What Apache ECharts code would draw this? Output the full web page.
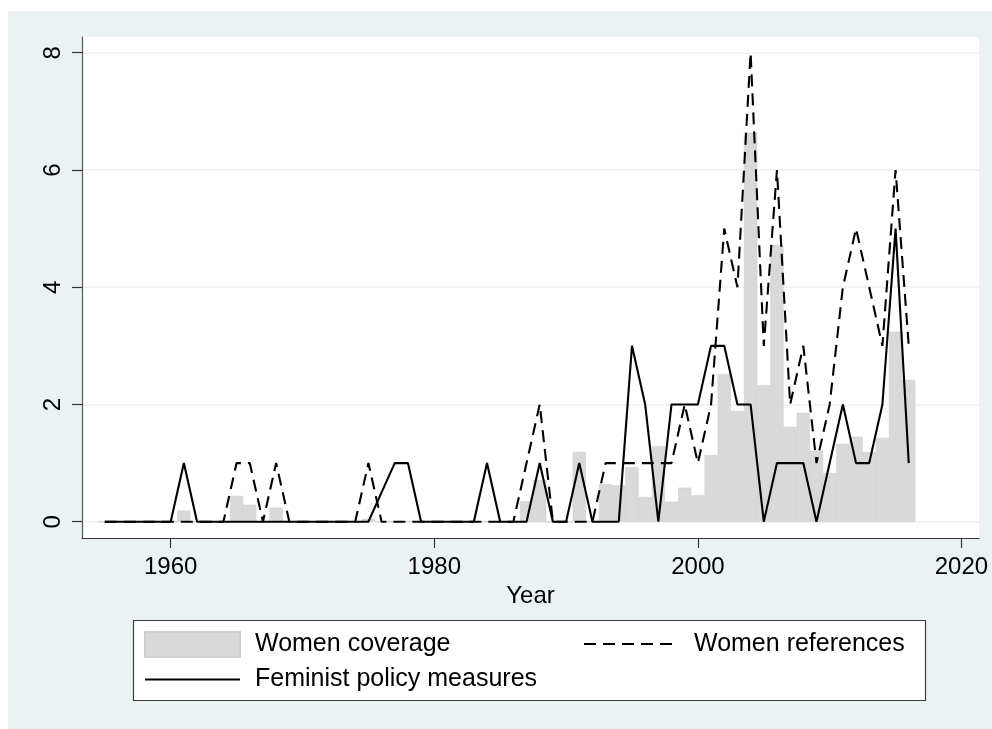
<!DOCTYPE html>
<html>
<head>
<meta charset="utf-8">
<script src="https://cdn.jsdelivr.net/npm/echarts@6/dist/echarts.min.js"></script>
<style>
html,body{margin:0;padding:0;background:#fff;}
#chart{width:992px;height:729px;}
</style>
</head>
<body>
<div id="chart"></div>
<script>
const years = [1955,1956,1957,1958,1959,1960,1961,1962,1963,1964,1965,1966,1967,1968,1969,1970,1971,1972,1973,1974,1975,1976,1977,1978,1979,1980,1981,1982,1983,1984,1985,1986,1987,1988,1989,1990,1991,1992,1993,1994,1995,1996,1997,1998,1999,2000,2001,2002,2003,2004,2005,2006,2007,2008,2009,2010,2011,2012,2013,2014,2015,2016];
const womenCoverage = [0,0,0,0,0,0,0.19,0,0,0,0.44,0.29,0,0.24,0,0,0,0,0,0,0.05,0,0,0,0,0,0,0,0,0,0,0,
  0.35,0.71,0,0,1.19,0,0.64,0.62,0.93,0.42,1.29,0.34,0.58,0.45,1.14,2.52,1.89,6.64,2.33,4.72,1.62,1.86,1.21,0.83,1.33,1.45,1.19,1.43,3.24,2.42];
const womenReferences = [0,0,0,0,0,0,0,0,0,0,1,1,0,1,0,0,0,0,0,0,1,0,0,0,0,0,0,0,0,0,0,0,
  1,2,0,0,0,0,1,1,1,1,1,1,2,1,2,5,4,8,3,6,2,3,1,2,4,5,4,3,6,3];
const feministMeasures = [0,0,0,0,0,0,1,0,0,0,0,0,0,0,0,0,0,0,0,0,0,0.5,1,1,0,0,0,0,0,1,0,0,
  0,1,0,0,1,0,0,0,3,2,0,2,2,2,3,3,2,2,0,1,1,1,0,1,2,1,1,2,5,1];
const xTicks = [1960,1980,2000,2020];
const yTicks = [0,2,4,6,8];
const seriesNames = ['Women coverage','Women references','Feminist policy measures'];
const xTitle = 'Year';

const pairs = arr => years.map((y,i)=>[y,arr[i]]);
const FONT = "'Liberation Sans', Arial, sans-serif";
const plain = v => String(v);

const chart = echarts.init(document.getElementById('chart'), null, {renderer:'canvas'});
chart.setOption({
  backgroundColor:'#eaf2f3',
  animation:false,
  textStyle:{fontFamily:FONT},
  graphic:[
    {type:'rect', shape:{x:0,y:0,width:992,height:11}, style:{fill:'#ffffff'}, silent:true},
    {type:'rect', shape:{x:0,y:0,width:8,height:729}, style:{fill:'#ffffff'}, silent:true},
    {type:'rect', shape:{x:133.5,y:620.5,width:792,height:80}, style:{fill:'#ffffff',stroke:'#3c3c3c',lineWidth:1.2}, silent:true}
  ],
  grid:{left:82, top:37, width:897, height:501, show:true, backgroundColor:'#ffffff', borderWidth:0, containLabel:false},
  xAxis:{
    type:'value', min:1953.27, max:2021.33,
    name:xTitle, nameLocation:'middle', nameGap:44,
    nameTextStyle:{fontSize:24, color:'#000', fontFamily:FONT},
    axisLine:{show:true, onZero:false, lineStyle:{color:'#333', width:1.2}},
    axisTick:{show:true, length:10, customValues:xTicks, lineStyle:{color:'#333', width:1.2}},
    axisLabel:{customValues:xTicks, formatter:plain, fontSize:24, color:'#000', margin:17, fontFamily:FONT},
    splitLine:{show:false}
  },
  yAxis:{
    type:'value', min:-0.278, max:8.268,
    axisLine:{show:true, onZero:false, lineStyle:{color:'#555', width:1.2}},
    axisTick:{show:true, length:10, customValues:yTicks, lineStyle:{color:'#333', width:1.2}},
    axisLabel:{customValues:yTicks, formatter:plain, rotate:90, fontSize:24, color:'#000', margin:17, fontFamily:FONT},
    splitLine:{show:true, lineStyle:{color:'#eaf2f3', width:1.6}}
  },
  legend:[
    {data:[seriesNames[0]], left:144, top:631, padding:0, itemWidth:95, itemHeight:25, icon:'rect',
     textStyle:{fontSize:25, color:'#000', fontFamily:FONT, padding:[0,0,0,10]}, selectedMode:false, z:5},
    {data:[seriesNames[1]], left:583, top:631.5, padding:0, itemWidth:95, itemHeight:2,
     itemStyle:{opacity:0}, lineStyle:{width:2},
     textStyle:{fontSize:25, color:'#000', fontFamily:FONT, padding:[0,0,0,10]}, selectedMode:false, z:5},
    {data:[seriesNames[2]], left:144, top:667, padding:0, itemWidth:95, itemHeight:2,
     itemStyle:{opacity:0}, lineStyle:{width:2},
     textStyle:{fontSize:25, color:'#000', fontFamily:FONT, padding:[0,0,0,10]}, selectedMode:false, z:5}
  ],
  series:[
    {name:seriesNames[0], type:'bar', data:pairs(womenCoverage), barWidth:13.18,
     itemStyle:{color:'#d9d9d9', borderColor:'#cfcfcf', borderWidth:0.6}},
    {name:seriesNames[1], type:'line', data:pairs(womenReferences), symbol:'none', showSymbol:false,
     lineStyle:{color:'#000', width:2.1, type:[12,7]}, itemStyle:{color:'#000'}},
    {name:seriesNames[2], type:'line', data:pairs(feministMeasures), symbol:'none', showSymbol:false,
     lineStyle:{color:'#000', width:2.1}, itemStyle:{color:'#000'}}
  ]
});
</script>
</body>
</html>
